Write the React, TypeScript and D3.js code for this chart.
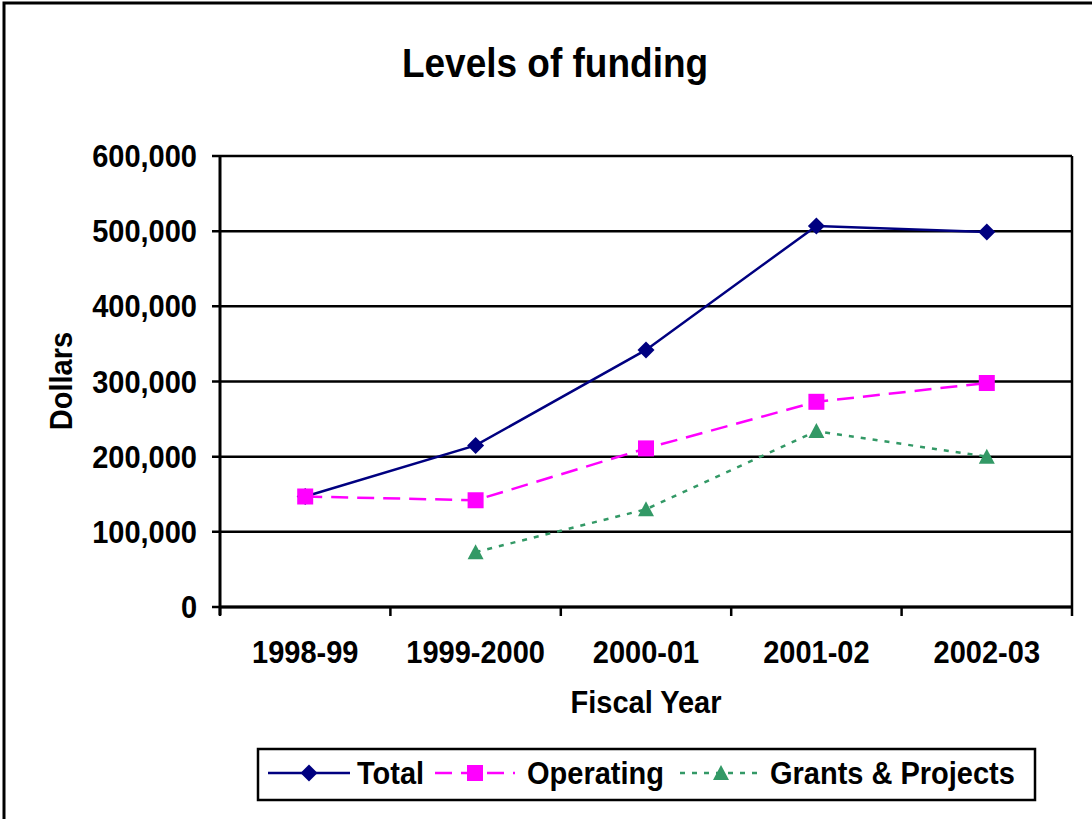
import React from "react";
import * as d3 from "d3";

const categories = ["1998-99", "1999-2000", "2000-01", "2001-02", "2002-03"];
const totalValues: (number | null)[] = [147000, 215000, 342000, 507000, 499000];
const operatingValues: (number | null)[] = [147000, 142000, 211000, 273000, 298000];
const grantsValues: (number | null)[] = [null, 73000, 130000, 234000, 200000];
const yTicks = [0, 100000, 200000, 300000, 400000, 500000, 600000];

const W = 1092;
const H = 819;
const left = 220;
const right = 1072;
const top = 156;
const bottom = 607;
const FONT = "'Liberation Sans', Arial, sans-serif";
const SY = 1.08;

function T(props: { x: number; y: number; size: number; anchor?: string; rotate?: number; children: React.ReactNode }) {
  const { x, y, size, anchor = "start", rotate = 0, children } = props;
  return (
    <text
      transform={`translate(${x},${y}) rotate(${rotate}) scale(1,${SY})`}
      textAnchor={anchor}
      fontSize={size}
      fontWeight="bold"
    >
      {children}
    </text>
  );
}

export default function App() {
  const x = d3.scaleBand<string>().domain(categories).range([left, right]);
  const y = d3.scaleLinear().domain([0, 600000]).range([bottom, top]);
  const cx = (c: string) => (x(c) as number) + x.bandwidth() / 2;
  const fmt = d3.format(",");

  const line = d3
    .line<number | null>()
    .defined((d) => d !== null)
    .x((_, i) => cx(categories[i]))
    .y((d) => y(d as number));

  const series = [
    { name: "Total", values: totalValues, color: "#000080", dash: "none", marker: "diamond" },
    { name: "Operating", values: operatingValues, color: "#FF00FF", dash: "17 9", marker: "square" },
    { name: "Grants & Projects", values: grantsValues, color: "#339966", dash: "5 7", marker: "triangle" },
  ];

  const marker = (type: string, px: number, py: number, color: string, key: string) => {
    if (type === "diamond") {
      const s = 8.5;
      return <path key={key} d={`M${px},${py - s}L${px + s},${py}L${px},${py + s}L${px - s},${py}Z`} fill={color} />;
    }
    if (type === "square") {
      const s = 8;
      return <rect key={key} x={px - s} y={py - s} width={2 * s} height={2 * s} fill={color} />;
    }
    const s = 8;
    return <path key={key} d={`M${px},${py - s}L${px + s},${py + s - 1}L${px - s},${py + s - 1}Z`} fill={color} />;
  };

  const boundaries = d3.range(categories.length + 1).map((i) => left + i * x.bandwidth());

  const legendItems = [
    { s: series[0], x1: 268, x2: 350, tx: 357 },
    { s: series[1], x1: 435, x2: 515, tx: 527 },
    { s: series[2], x1: 680, x2: 762, tx: 770 },
  ];

  return (
    <svg width={W} height={H} style={{ position: "absolute", left: 0, top: 0, background: "#fff" }} fontFamily={FONT}>
      <rect x={0} y={0} width={W} height={H} fill="#fff" />
      <rect x={4} y={3} width={W + 20} height={H + 20} fill="none" stroke="#000" strokeWidth={3} />
      <T x={555} y={77} size={37} anchor="middle">
        Levels of funding
      </T>

      {/* gridlines */}
      {yTicks.map((t) => (
        <line key={"g" + t} x1={left - 8} x2={right} y1={y(t)} y2={y(t)} stroke="#000" strokeWidth={2.5} />
      ))}
      {/* plot border */}
      <line x1={right} x2={right} y1={top} y2={bottom} stroke="#000" strokeWidth={2.5} />
      <line x1={left} x2={left} y1={top} y2={bottom + 8} stroke="#000" strokeWidth={3} />
      <line x1={left} x2={right} y1={bottom} y2={bottom} stroke="#000" strokeWidth={3} />
      {boundaries.map((b, i) => (
        <line key={"xt" + i} x1={b} x2={b} y1={bottom} y2={bottom + 9} stroke="#000" strokeWidth={2.5} />
      ))}

      {/* y tick labels */}
      {yTicks.map((t) => (
        <T key={"yl" + t} x={197} y={y(t) + 11} size={29} anchor="end">
          {fmt(t)}
        </T>
      ))}
      {/* x tick labels */}
      {categories.map((c) => (
        <T key={"xl" + c} x={cx(c)} y={663} size={29} anchor="middle">
          {c}
        </T>
      ))}
      <T x={646} y={713} size={29} anchor="middle">
        Fiscal Year
      </T>
      <T x={72} y={381} size={29} anchor="middle" rotate={-90}>
        Dollars
      </T>

      {/* series */}
      {series.map((s) => (
        <g key={s.name}>
          <path d={line(s.values) || ""} fill="none" stroke={s.color} strokeWidth={2.5} strokeDasharray={s.dash} />
          {s.values.map((v, i) =>
            v === null ? null : marker(s.marker, cx(categories[i]), y(v), s.color, s.name + i)
          )}
        </g>
      ))}

      {/* legend */}
      <rect x={258} y={749} width={777} height={51} fill="#fff" stroke="#000" strokeWidth={2.5} />
      {legendItems.map((it) => (
        <g key={"lg" + it.s.name}>
          <line x1={it.x1} x2={it.x2} y1={773} y2={773} stroke={it.s.color} strokeWidth={2.5} strokeDasharray={it.s.dash} />
          {marker(it.s.marker, (it.x1 + it.x2) / 2, 773, it.s.color, "lm" + it.s.name)}
          <T x={it.tx} y={784} size={29}>
            {it.s.name}
          </T>
        </g>
      ))}
    </svg>
  );
}
